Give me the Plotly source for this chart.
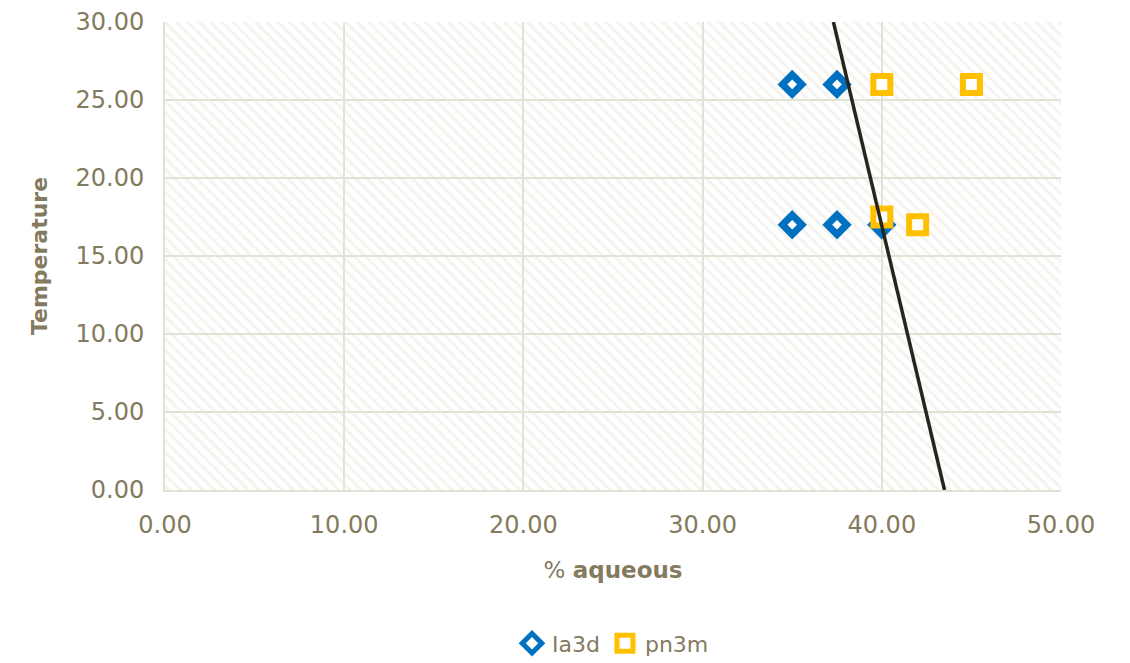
import plotly.graph_objects as go

# Phase data: % aqueous vs temperature
ia3d_x = [35.0, 37.5, 35.0, 37.5, 40.0]
ia3d_y = [26.0, 26.0, 17.0, 17.0, 17.0]
pn3m_x = [40.0, 45.0, 40.0, 42.0]
pn3m_y = [26.0, 26.0, 17.5, 17.0]

# Phase boundary line
boundary_x = [37.3, 43.5]
boundary_y = [30.0, 0.0]

x_range = [0, 50]
y_range = [0, 30]

text_color = "#847a5e"
grid_color = "#e3e0d4"
font_family = "DejaVu Sans, sans-serif"

fig = go.Figure()

# Hatched plot-area background (transparent gaps so the grid shows through)
fig.add_trace(go.Scatter(
    x=[x_range[0], x_range[1], x_range[1], x_range[0], x_range[0]],
    y=[y_range[0], y_range[0], y_range[1], y_range[1], y_range[0]],
    mode="lines", fill="toself", line=dict(width=0),
    fillcolor="rgba(0,0,0,0)",
    fillpattern=dict(shape="\\", fgcolor="#e8e5dc", bgcolor="rgba(0,0,0,0)",
                     size=8, solidity=0.35),
    hoverinfo="skip", showlegend=False,
))

fig.add_trace(go.Scatter(
    x=ia3d_x, y=ia3d_y, mode="markers", name="Ia3d",
    marker=dict(symbol="diamond", size=15, color="white",
                line=dict(color="#0070c0", width=7)),
))
fig.add_trace(go.Scatter(
    x=pn3m_x, y=pn3m_y, mode="markers", name="pn3m",
    marker=dict(symbol="square", size=17, color="white",
                line=dict(color="#ffc000", width=6)),
))
fig.add_trace(go.Scatter(
    x=boundary_x, y=boundary_y, mode="lines",
    line=dict(color="#262620", width=3.5), showlegend=False,
))

fig.update_layout(
    width=1130, height=663,
    margin=dict(l=165, r=69, t=22, b=173, autoexpand=False),
    paper_bgcolor="white", plot_bgcolor="white",
    font=dict(family=font_family, color=text_color, size=24),
    showlegend=True,
    legend=dict(orientation="h", x=0.5, xanchor="center", y=-0.283,
                yanchor="top", font=dict(size=22, color=text_color),
                itemwidth=30, tracegroupgap=0),
)
fig.update_xaxes(
    range=x_range, dtick=10, tickformat=".2f", showgrid=True,
    gridcolor=grid_color, gridwidth=2, zeroline=False, automargin=False,
    showline=True, linecolor=grid_color, linewidth=2, mirror=False,
    ticks="", ticklabelstandoff=12,
    title=dict(text="% <b>aqueous</b>", font=dict(size=23, color=text_color),
               standoff=24),
)
fig.update_yaxes(
    range=y_range, dtick=5, tickformat=".2f", showgrid=True,
    gridcolor=grid_color, gridwidth=2, zeroline=False, automargin=False,
    showline=True, linecolor=grid_color, linewidth=2,
    ticks="", ticklabelstandoff=14,
    title=dict(text="<b>Temperature</b>", font=dict(size=22, color=text_color),
               standoff=22),
)

fig.write_html("out.html")
